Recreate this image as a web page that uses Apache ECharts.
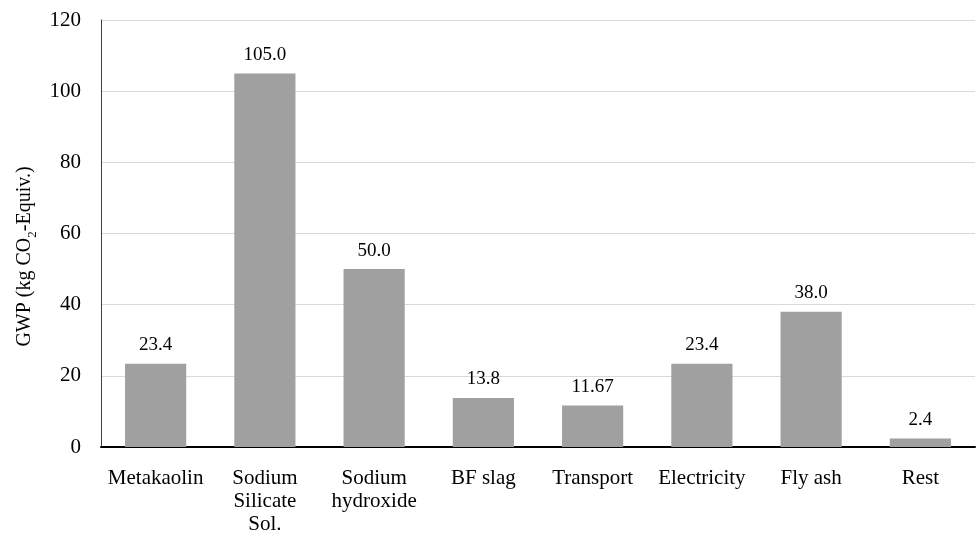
<!DOCTYPE html>
<html>
<head>
<meta charset="utf-8">
<script src="https://cdn.jsdelivr.net/npm/echarts@6/dist/echarts.min.js"></script>
<style>html,body{margin:0;padding:0;background:#fff;}#c{width:976px;height:534px;}</style>
</head>
<body>
<div id="c"></div>
<script>
var categories = ['Metakaolin', 'Sodium\nSilicate\nSol.', 'Sodium\nhydroxide', 'BF slag', 'Transport', 'Electricity', 'Fly ash', 'Rest'];
var values = [23.4, 105.0, 50.0, 13.8, 11.67, 23.4, 38.0, 2.4];
var valueLabels = ['23.4', '105.0', '50.0', '13.8', '11.67', '23.4', '38.0', '2.4'];
var yTicks = [0, 20, 40, 60, 80, 100, 120];

var font = '"Liberation Serif", "Times New Roman", serif';
var chart = echarts.init(document.getElementById('c'), null, {renderer: 'canvas'});
chart.setOption({
  animation: false,
  grid: {left: 101, right: 1, top: 20, bottom: 87, containLabel: false, outerBoundsMode: 'none'},
  xAxis: {
    type: 'category',
    data: categories,
    axisLine: {lineStyle: {color: '#000', width: 2}},
    axisTick: {show: false},
    axisLabel: {fontFamily: font, fontSize: 21, color: '#000', margin: 20, lineHeight: 23, interval: 0}
  },
  yAxis: {
    type: 'value',
    min: yTicks[0],
    max: yTicks[yTicks.length - 1],
    interval: yTicks[1] - yTicks[0],
    name: '{a|GWP (kg CO}{s|2}{a|-Equiv.)}',
    nameLocation: 'middle',
    nameGap: 62,
    nameRotate: 90,
    nameTextStyle: {
      padding: [0, 46, 0, 0],
      rich: {
        a: {fontFamily: font, fontSize: 20, color: '#000'},
        s: {fontFamily: font, fontSize: 13, color: '#000', verticalAlign: 'bottom', lineHeight: 28}
      }
    },
    axisLine: {show: true, lineStyle: {color: '#404040', width: 1}},
    axisTick: {show: false},
    splitLine: {lineStyle: {color: '#d9d9d9', width: 1}},
    axisLabel: {fontFamily: font, fontSize: 21, color: '#000', margin: 20}
  },
  series: [{
    type: 'bar',
    data: values,
    barWidth: '56%',
    itemStyle: {color: '#a0a0a0'},
    label: {
      show: true,
      position: 'top',
      distance: 9,
      fontFamily: font,
      fontSize: 19,
      color: '#000',
      formatter: function (p) { return valueLabels[p.dataIndex]; }
    }
  }]
});
</script>
</body>
</html>
